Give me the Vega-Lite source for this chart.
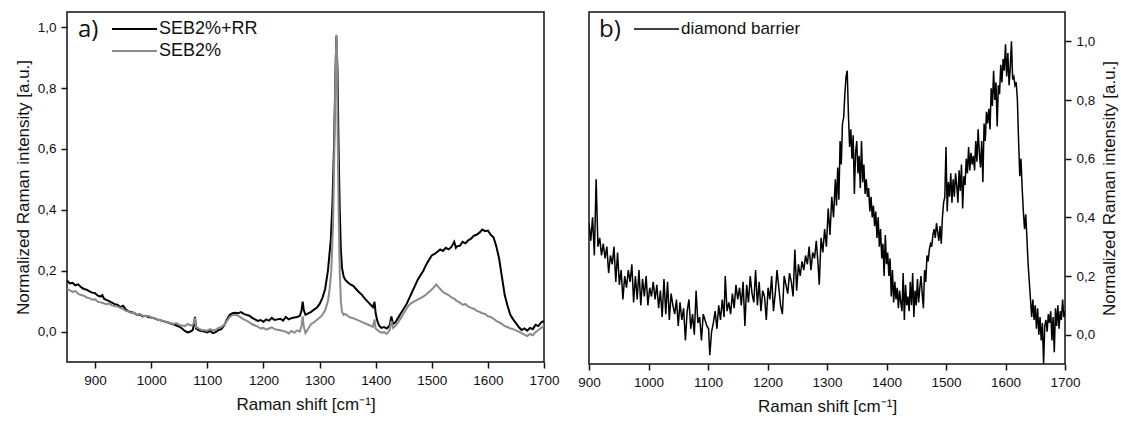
{
  "$schema": "https://vega.github.io/schema/vega-lite/v6.json",
  "background": "white",
  "padding": {"left": 13, "top": 11, "right": 2, "bottom": 2},
  "bounds": "flush",
  "spacing": 45,
  "config": {
    "view": {"stroke": "#111111", "strokeWidth": 1.5},
    "font": "Liberation Sans",
    "axis": {"domain": false, "grid": false, "ticks": true, "tickColor": "#111111", "tickWidth": 1.5, "tickSize": 6, "labelFont": "Liberation Sans", "labelFontSize": 13.5, "labelColor": "#111111", "labelPadding": 5, "titleFont": "Liberation Sans", "titleFontSize": 17, "titleFontWeight": "normal", "titleColor": "#111111"},
    "legend": {"orient": "none", "symbolType": "stroke", "symbolSize": 2025, "symbolStrokeWidth": 2, "clipHeight": 22, "labelFont": "Liberation Sans", "labelFontSize": 18, "labelColor": "#111111", "labelOffset": 1, "titleOrient": "left", "titleAngle": 0, "titleAnchor": "start", "titleBaseline": "top", "titleFont": "Open Sans", "titleFontSize": 24, "titleFontWeight": "normal", "titleColor": "#111111", "titlePadding": 12, "rowPadding": 0, "padding": 0}
  },
  "datasets": {
    "a": [
      {"s":"SEB2%+RR","x":850,"y":0.168},{"s":"SEB2%+RR","x":855,"y":0.158},{"s":"SEB2%+RR","x":860,"y":0.160},{"s":"SEB2%+RR","x":865,"y":0.152},{"s":"SEB2%+RR","x":870,"y":0.155},{"s":"SEB2%+RR","x":875,"y":0.146},{"s":"SEB2%+RR","x":880,"y":0.140},{"s":"SEB2%+RR","x":885,"y":0.138},{"s":"SEB2%+RR","x":890,"y":0.132},{"s":"SEB2%+RR","x":895,"y":0.128},{"s":"SEB2%+RR","x":900,"y":0.126},{"s":"SEB2%+RR","x":905,"y":0.118},{"s":"SEB2%+RR","x":910,"y":0.115},{"s":"SEB2%+RR","x":913,"y":0.120},{"s":"SEB2%+RR","x":916,"y":0.108},{"s":"SEB2%+RR","x":920,"y":0.104},{"s":"SEB2%+RR","x":925,"y":0.100},{"s":"SEB2%+RR","x":930,"y":0.095},{"s":"SEB2%+RR","x":935,"y":0.090},{"s":"SEB2%+RR","x":940,"y":0.088},{"s":"SEB2%+RR","x":945,"y":0.080},{"s":"SEB2%+RR","x":950,"y":0.085},{"s":"SEB2%+RR","x":955,"y":0.072},{"s":"SEB2%+RR","x":960,"y":0.066},{"s":"SEB2%+RR","x":965,"y":0.064},{"s":"SEB2%+RR","x":970,"y":0.060},{"s":"SEB2%+RR","x":975,"y":0.055},{"s":"SEB2%+RR","x":980,"y":0.056},{"s":"SEB2%+RR","x":985,"y":0.050},{"s":"SEB2%+RR","x":990,"y":0.052},{"s":"SEB2%+RR","x":995,"y":0.048},{"s":"SEB2%+RR","x":1000,"y":0.046},{"s":"SEB2%+RR","x":1005,"y":0.044},{"s":"SEB2%+RR","x":1010,"y":0.040},{"s":"SEB2%+RR","x":1015,"y":0.038},{"s":"SEB2%+RR","x":1020,"y":0.035},{"s":"SEB2%+RR","x":1025,"y":0.032},{"s":"SEB2%+RR","x":1030,"y":0.030},{"s":"SEB2%+RR","x":1035,"y":0.026},{"s":"SEB2%+RR","x":1040,"y":0.024},{"s":"SEB2%+RR","x":1045,"y":0.020},{"s":"SEB2%+RR","x":1050,"y":0.016},{"s":"SEB2%+RR","x":1055,"y":0.010},{"s":"SEB2%+RR","x":1060,"y":0.002},{"s":"SEB2%+RR","x":1065,"y":-0.003},{"s":"SEB2%+RR","x":1070,"y":0.000},{"s":"SEB2%+RR","x":1074,"y":0.005},{"s":"SEB2%+RR","x":1077,"y":0.030},{"s":"SEB2%+RR","x":1078,"y":0.048},{"s":"SEB2%+RR","x":1080,"y":0.010},{"s":"SEB2%+RR","x":1085,"y":0.004},{"s":"SEB2%+RR","x":1090,"y":0.002},{"s":"SEB2%+RR","x":1095,"y":0.000},{"s":"SEB2%+RR","x":1100,"y":-0.003},{"s":"SEB2%+RR","x":1105,"y":0.002},{"s":"SEB2%+RR","x":1110,"y":-0.005},{"s":"SEB2%+RR","x":1115,"y":-0.002},{"s":"SEB2%+RR","x":1120,"y":0.005},{"s":"SEB2%+RR","x":1125,"y":0.008},{"s":"SEB2%+RR","x":1130,"y":0.020},{"s":"SEB2%+RR","x":1135,"y":0.040},{"s":"SEB2%+RR","x":1140,"y":0.055},{"s":"SEB2%+RR","x":1145,"y":0.060},{"s":"SEB2%+RR","x":1150,"y":0.062},{"s":"SEB2%+RR","x":1155,"y":0.060},{"s":"SEB2%+RR","x":1160,"y":0.064},{"s":"SEB2%+RR","x":1165,"y":0.058},{"s":"SEB2%+RR","x":1170,"y":0.055},{"s":"SEB2%+RR","x":1175,"y":0.052},{"s":"SEB2%+RR","x":1180,"y":0.045},{"s":"SEB2%+RR","x":1185,"y":0.040},{"s":"SEB2%+RR","x":1190,"y":0.035},{"s":"SEB2%+RR","x":1195,"y":0.038},{"s":"SEB2%+RR","x":1200,"y":0.032},{"s":"SEB2%+RR","x":1205,"y":0.040},{"s":"SEB2%+RR","x":1210,"y":0.036},{"s":"SEB2%+RR","x":1215,"y":0.045},{"s":"SEB2%+RR","x":1220,"y":0.038},{"s":"SEB2%+RR","x":1225,"y":0.040},{"s":"SEB2%+RR","x":1230,"y":0.042},{"s":"SEB2%+RR","x":1235,"y":0.036},{"s":"SEB2%+RR","x":1240,"y":0.048},{"s":"SEB2%+RR","x":1245,"y":0.040},{"s":"SEB2%+RR","x":1250,"y":0.044},{"s":"SEB2%+RR","x":1255,"y":0.046},{"s":"SEB2%+RR","x":1260,"y":0.048},{"s":"SEB2%+RR","x":1265,"y":0.052},{"s":"SEB2%+RR","x":1268,"y":0.070},{"s":"SEB2%+RR","x":1270,"y":0.098},{"s":"SEB2%+RR","x":1272,"y":0.070},{"s":"SEB2%+RR","x":1275,"y":0.055},{"s":"SEB2%+RR","x":1280,"y":0.060},{"s":"SEB2%+RR","x":1285,"y":0.065},{"s":"SEB2%+RR","x":1290,"y":0.072},{"s":"SEB2%+RR","x":1295,"y":0.078},{"s":"SEB2%+RR","x":1300,"y":0.090},{"s":"SEB2%+RR","x":1305,"y":0.110},{"s":"SEB2%+RR","x":1310,"y":0.140},{"s":"SEB2%+RR","x":1315,"y":0.200},{"s":"SEB2%+RR","x":1320,"y":0.300},{"s":"SEB2%+RR","x":1323,"y":0.420},{"s":"SEB2%+RR","x":1326,"y":0.620},{"s":"SEB2%+RR","x":1328,"y":0.820},{"s":"SEB2%+RR","x":1330,"y":0.970},{"s":"SEB2%+RR","x":1332,"y":0.860},{"s":"SEB2%+RR","x":1334,"y":0.600},{"s":"SEB2%+RR","x":1336,"y":0.400},{"s":"SEB2%+RR","x":1338,"y":0.270},{"s":"SEB2%+RR","x":1340,"y":0.210},{"s":"SEB2%+RR","x":1343,"y":0.180},{"s":"SEB2%+RR","x":1346,"y":0.170},{"s":"SEB2%+RR","x":1350,"y":0.162},{"s":"SEB2%+RR","x":1355,"y":0.155},{"s":"SEB2%+RR","x":1360,"y":0.150},{"s":"SEB2%+RR","x":1365,"y":0.140},{"s":"SEB2%+RR","x":1370,"y":0.130},{"s":"SEB2%+RR","x":1375,"y":0.122},{"s":"SEB2%+RR","x":1380,"y":0.110},{"s":"SEB2%+RR","x":1385,"y":0.100},{"s":"SEB2%+RR","x":1390,"y":0.090},{"s":"SEB2%+RR","x":1395,"y":0.080},{"s":"SEB2%+RR","x":1398,"y":0.098},{"s":"SEB2%+RR","x":1400,"y":0.060},{"s":"SEB2%+RR","x":1403,"y":0.035},{"s":"SEB2%+RR","x":1406,"y":0.020},{"s":"SEB2%+RR","x":1410,"y":0.012},{"s":"SEB2%+RR","x":1415,"y":0.015},{"s":"SEB2%+RR","x":1420,"y":0.010},{"s":"SEB2%+RR","x":1425,"y":0.020},{"s":"SEB2%+RR","x":1428,"y":0.050},{"s":"SEB2%+RR","x":1431,"y":0.025},{"s":"SEB2%+RR","x":1435,"y":0.030},{"s":"SEB2%+RR","x":1440,"y":0.045},{"s":"SEB2%+RR","x":1445,"y":0.060},{"s":"SEB2%+RR","x":1450,"y":0.075},{"s":"SEB2%+RR","x":1455,"y":0.090},{"s":"SEB2%+RR","x":1460,"y":0.110},{"s":"SEB2%+RR","x":1465,"y":0.130},{"s":"SEB2%+RR","x":1470,"y":0.150},{"s":"SEB2%+RR","x":1475,"y":0.170},{"s":"SEB2%+RR","x":1480,"y":0.185},{"s":"SEB2%+RR","x":1485,"y":0.200},{"s":"SEB2%+RR","x":1490,"y":0.220},{"s":"SEB2%+RR","x":1495,"y":0.235},{"s":"SEB2%+RR","x":1500,"y":0.250},{"s":"SEB2%+RR","x":1505,"y":0.255},{"s":"SEB2%+RR","x":1510,"y":0.262},{"s":"SEB2%+RR","x":1515,"y":0.270},{"s":"SEB2%+RR","x":1520,"y":0.265},{"s":"SEB2%+RR","x":1525,"y":0.275},{"s":"SEB2%+RR","x":1530,"y":0.270},{"s":"SEB2%+RR","x":1535,"y":0.278},{"s":"SEB2%+RR","x":1540,"y":0.295},{"s":"SEB2%+RR","x":1543,"y":0.275},{"s":"SEB2%+RR","x":1545,"y":0.280},{"s":"SEB2%+RR","x":1550,"y":0.282},{"s":"SEB2%+RR","x":1555,"y":0.295},{"s":"SEB2%+RR","x":1560,"y":0.290},{"s":"SEB2%+RR","x":1565,"y":0.300},{"s":"SEB2%+RR","x":1570,"y":0.305},{"s":"SEB2%+RR","x":1575,"y":0.315},{"s":"SEB2%+RR","x":1580,"y":0.318},{"s":"SEB2%+RR","x":1585,"y":0.325},{"s":"SEB2%+RR","x":1590,"y":0.335},{"s":"SEB2%+RR","x":1595,"y":0.330},{"s":"SEB2%+RR","x":1600,"y":0.332},{"s":"SEB2%+RR","x":1605,"y":0.318},{"s":"SEB2%+RR","x":1610,"y":0.310},{"s":"SEB2%+RR","x":1615,"y":0.280},{"s":"SEB2%+RR","x":1620,"y":0.240},{"s":"SEB2%+RR","x":1625,"y":0.180},{"s":"SEB2%+RR","x":1630,"y":0.120},{"s":"SEB2%+RR","x":1635,"y":0.085},{"s":"SEB2%+RR","x":1640,"y":0.055},{"s":"SEB2%+RR","x":1645,"y":0.040},{"s":"SEB2%+RR","x":1650,"y":0.028},{"s":"SEB2%+RR","x":1655,"y":0.015},{"s":"SEB2%+RR","x":1660,"y":0.005},{"s":"SEB2%+RR","x":1665,"y":0.010},{"s":"SEB2%+RR","x":1670,"y":0.003},{"s":"SEB2%+RR","x":1675,"y":0.012},{"s":"SEB2%+RR","x":1680,"y":0.008},{"s":"SEB2%+RR","x":1685,"y":0.022},{"s":"SEB2%+RR","x":1690,"y":0.018},{"s":"SEB2%+RR","x":1695,"y":0.030},{"s":"SEB2%+RR","x":1700,"y":0.035},
      {"s":"SEB2%","x":850,"y":0.140},{"s":"SEB2%","x":855,"y":0.135},{"s":"SEB2%","x":860,"y":0.130},{"s":"SEB2%","x":865,"y":0.133},{"s":"SEB2%","x":870,"y":0.124},{"s":"SEB2%","x":875,"y":0.120},{"s":"SEB2%","x":880,"y":0.118},{"s":"SEB2%","x":885,"y":0.112},{"s":"SEB2%","x":890,"y":0.110},{"s":"SEB2%","x":895,"y":0.105},{"s":"SEB2%","x":900,"y":0.106},{"s":"SEB2%","x":905,"y":0.098},{"s":"SEB2%","x":910,"y":0.096},{"s":"SEB2%","x":915,"y":0.093},{"s":"SEB2%","x":920,"y":0.090},{"s":"SEB2%","x":925,"y":0.092},{"s":"SEB2%","x":930,"y":0.086},{"s":"SEB2%","x":935,"y":0.084},{"s":"SEB2%","x":940,"y":0.082},{"s":"SEB2%","x":945,"y":0.078},{"s":"SEB2%","x":950,"y":0.074},{"s":"SEB2%","x":955,"y":0.068},{"s":"SEB2%","x":960,"y":0.066},{"s":"SEB2%","x":965,"y":0.060},{"s":"SEB2%","x":970,"y":0.062},{"s":"SEB2%","x":975,"y":0.055},{"s":"SEB2%","x":980,"y":0.058},{"s":"SEB2%","x":985,"y":0.052},{"s":"SEB2%","x":990,"y":0.050},{"s":"SEB2%","x":995,"y":0.052},{"s":"SEB2%","x":1000,"y":0.046},{"s":"SEB2%","x":1005,"y":0.044},{"s":"SEB2%","x":1010,"y":0.040},{"s":"SEB2%","x":1015,"y":0.038},{"s":"SEB2%","x":1020,"y":0.036},{"s":"SEB2%","x":1025,"y":0.033},{"s":"SEB2%","x":1030,"y":0.030},{"s":"SEB2%","x":1035,"y":0.028},{"s":"SEB2%","x":1040,"y":0.025},{"s":"SEB2%","x":1045,"y":0.028},{"s":"SEB2%","x":1050,"y":0.022},{"s":"SEB2%","x":1055,"y":0.020},{"s":"SEB2%","x":1060,"y":0.018},{"s":"SEB2%","x":1065,"y":0.025},{"s":"SEB2%","x":1070,"y":0.020},{"s":"SEB2%","x":1074,"y":0.022},{"s":"SEB2%","x":1077,"y":0.032},{"s":"SEB2%","x":1078,"y":0.045},{"s":"SEB2%","x":1080,"y":0.015},{"s":"SEB2%","x":1085,"y":0.010},{"s":"SEB2%","x":1090,"y":0.005},{"s":"SEB2%","x":1095,"y":0.004},{"s":"SEB2%","x":1100,"y":0.003},{"s":"SEB2%","x":1105,"y":0.008},{"s":"SEB2%","x":1110,"y":0.004},{"s":"SEB2%","x":1115,"y":0.006},{"s":"SEB2%","x":1120,"y":0.012},{"s":"SEB2%","x":1125,"y":0.015},{"s":"SEB2%","x":1130,"y":0.022},{"s":"SEB2%","x":1135,"y":0.035},{"s":"SEB2%","x":1140,"y":0.048},{"s":"SEB2%","x":1145,"y":0.054},{"s":"SEB2%","x":1150,"y":0.055},{"s":"SEB2%","x":1155,"y":0.052},{"s":"SEB2%","x":1160,"y":0.046},{"s":"SEB2%","x":1165,"y":0.040},{"s":"SEB2%","x":1170,"y":0.036},{"s":"SEB2%","x":1175,"y":0.030},{"s":"SEB2%","x":1180,"y":0.024},{"s":"SEB2%","x":1185,"y":0.020},{"s":"SEB2%","x":1190,"y":0.016},{"s":"SEB2%","x":1195,"y":0.010},{"s":"SEB2%","x":1200,"y":0.012},{"s":"SEB2%","x":1205,"y":0.006},{"s":"SEB2%","x":1210,"y":0.010},{"s":"SEB2%","x":1215,"y":0.014},{"s":"SEB2%","x":1220,"y":0.008},{"s":"SEB2%","x":1225,"y":0.006},{"s":"SEB2%","x":1230,"y":0.004},{"s":"SEB2%","x":1235,"y":0.002},{"s":"SEB2%","x":1240,"y":0.000},{"s":"SEB2%","x":1245,"y":-0.006},{"s":"SEB2%","x":1250,"y":0.002},{"s":"SEB2%","x":1255,"y":-0.004},{"s":"SEB2%","x":1260,"y":0.004},{"s":"SEB2%","x":1265,"y":0.000},{"s":"SEB2%","x":1268,"y":0.020},{"s":"SEB2%","x":1270,"y":0.050},{"s":"SEB2%","x":1272,"y":0.015},{"s":"SEB2%","x":1275,"y":-0.005},{"s":"SEB2%","x":1280,"y":0.010},{"s":"SEB2%","x":1285,"y":0.025},{"s":"SEB2%","x":1290,"y":0.030},{"s":"SEB2%","x":1295,"y":0.038},{"s":"SEB2%","x":1300,"y":0.045},{"s":"SEB2%","x":1305,"y":0.055},{"s":"SEB2%","x":1310,"y":0.070},{"s":"SEB2%","x":1315,"y":0.100},{"s":"SEB2%","x":1318,"y":0.140},{"s":"SEB2%","x":1321,"y":0.200},{"s":"SEB2%","x":1324,"y":0.350},{"s":"SEB2%","x":1326,"y":0.550},{"s":"SEB2%","x":1328,"y":0.800},{"s":"SEB2%","x":1330,"y":0.975},{"s":"SEB2%","x":1331,"y":0.930},{"s":"SEB2%","x":1332,"y":0.700},{"s":"SEB2%","x":1334,"y":0.400},{"s":"SEB2%","x":1336,"y":0.200},{"s":"SEB2%","x":1338,"y":0.100},{"s":"SEB2%","x":1340,"y":0.065},{"s":"SEB2%","x":1343,"y":0.055},{"s":"SEB2%","x":1346,"y":0.058},{"s":"SEB2%","x":1350,"y":0.052},{"s":"SEB2%","x":1355,"y":0.046},{"s":"SEB2%","x":1360,"y":0.044},{"s":"SEB2%","x":1365,"y":0.040},{"s":"SEB2%","x":1370,"y":0.036},{"s":"SEB2%","x":1375,"y":0.032},{"s":"SEB2%","x":1380,"y":0.028},{"s":"SEB2%","x":1385,"y":0.024},{"s":"SEB2%","x":1390,"y":0.020},{"s":"SEB2%","x":1395,"y":0.015},{"s":"SEB2%","x":1398,"y":0.040},{"s":"SEB2%","x":1400,"y":0.010},{"s":"SEB2%","x":1405,"y":0.002},{"s":"SEB2%","x":1410,"y":-0.004},{"s":"SEB2%","x":1415,"y":-0.002},{"s":"SEB2%","x":1420,"y":-0.008},{"s":"SEB2%","x":1425,"y":0.005},{"s":"SEB2%","x":1428,"y":0.035},{"s":"SEB2%","x":1431,"y":0.012},{"s":"SEB2%","x":1435,"y":0.018},{"s":"SEB2%","x":1440,"y":0.030},{"s":"SEB2%","x":1445,"y":0.045},{"s":"SEB2%","x":1450,"y":0.060},{"s":"SEB2%","x":1455,"y":0.075},{"s":"SEB2%","x":1460,"y":0.088},{"s":"SEB2%","x":1465,"y":0.095},{"s":"SEB2%","x":1470,"y":0.100},{"s":"SEB2%","x":1475,"y":0.105},{"s":"SEB2%","x":1480,"y":0.110},{"s":"SEB2%","x":1485,"y":0.115},{"s":"SEB2%","x":1490,"y":0.122},{"s":"SEB2%","x":1495,"y":0.130},{"s":"SEB2%","x":1500,"y":0.138},{"s":"SEB2%","x":1505,"y":0.148},{"s":"SEB2%","x":1508,"y":0.155},{"s":"SEB2%","x":1510,"y":0.150},{"s":"SEB2%","x":1515,"y":0.140},{"s":"SEB2%","x":1520,"y":0.130},{"s":"SEB2%","x":1525,"y":0.125},{"s":"SEB2%","x":1530,"y":0.120},{"s":"SEB2%","x":1535,"y":0.112},{"s":"SEB2%","x":1540,"y":0.108},{"s":"SEB2%","x":1545,"y":0.100},{"s":"SEB2%","x":1550,"y":0.095},{"s":"SEB2%","x":1555,"y":0.088},{"s":"SEB2%","x":1560,"y":0.090},{"s":"SEB2%","x":1565,"y":0.082},{"s":"SEB2%","x":1570,"y":0.078},{"s":"SEB2%","x":1575,"y":0.075},{"s":"SEB2%","x":1580,"y":0.068},{"s":"SEB2%","x":1585,"y":0.065},{"s":"SEB2%","x":1590,"y":0.060},{"s":"SEB2%","x":1595,"y":0.058},{"s":"SEB2%","x":1600,"y":0.050},{"s":"SEB2%","x":1605,"y":0.048},{"s":"SEB2%","x":1610,"y":0.042},{"s":"SEB2%","x":1615,"y":0.035},{"s":"SEB2%","x":1620,"y":0.030},{"s":"SEB2%","x":1625,"y":0.025},{"s":"SEB2%","x":1630,"y":0.018},{"s":"SEB2%","x":1635,"y":0.015},{"s":"SEB2%","x":1640,"y":0.010},{"s":"SEB2%","x":1645,"y":0.008},{"s":"SEB2%","x":1650,"y":0.004},{"s":"SEB2%","x":1655,"y":0.000},{"s":"SEB2%","x":1660,"y":-0.005},{"s":"SEB2%","x":1665,"y":-0.010},{"s":"SEB2%","x":1670,"y":-0.015},{"s":"SEB2%","x":1675,"y":-0.008},{"s":"SEB2%","x":1680,"y":-0.012},{"s":"SEB2%","x":1685,"y":-0.002},{"s":"SEB2%","x":1690,"y":0.005},{"s":"SEB2%","x":1695,"y":0.012},{"s":"SEB2%","x":1700,"y":0.020}
    ],
    "b": [
      {"x":900,"y":0.38},{"x":903,"y":0.32},{"x":906,"y":0.40},{"x":909,"y":0.27},{"x":912,"y":0.53},{"x":915,"y":0.30},{"x":918,"y":0.33},{"x":921,"y":0.27},{"x":924,"y":0.31},{"x":927,"y":0.26},{"x":930,"y":0.30},{"x":933,"y":0.21},{"x":936,"y":0.27},{"x":939,"y":0.24},{"x":942,"y":0.30},{"x":945,"y":0.18},{"x":948,"y":0.28},{"x":951,"y":0.17},{"x":954,"y":0.22},{"x":957,"y":0.12},{"x":960,"y":0.20},{"x":963,"y":0.16},{"x":966,"y":0.22},{"x":969,"y":0.18},{"x":972,"y":0.24},{"x":975,"y":0.11},{"x":978,"y":0.20},{"x":981,"y":0.12},{"x":984,"y":0.22},{"x":987,"y":0.10},{"x":990,"y":0.19},{"x":993,"y":0.13},{"x":996,"y":0.20},{"x":999,"y":0.10},{"x":1002,"y":0.16},{"x":1005,"y":0.13},{"x":1008,"y":0.18},{"x":1011,"y":0.12},{"x":1014,"y":0.17},{"x":1017,"y":0.09},{"x":1020,"y":0.15},{"x":1023,"y":0.06},{"x":1026,"y":0.19},{"x":1029,"y":0.07},{"x":1032,"y":0.18},{"x":1035,"y":0.05},{"x":1038,"y":0.14},{"x":1041,"y":0.10},{"x":1044,"y":0.07},{"x":1047,"y":0.12},{"x":1050,"y":0.03},{"x":1053,"y":0.11},{"x":1056,"y":0.05},{"x":1059,"y":0.09},{"x":1062,"y":-0.02},{"x":1065,"y":0.08},{"x":1068,"y":0.12},{"x":1071,"y":0.02},{"x":1074,"y":0.07},{"x":1077,"y":0.00},{"x":1080,"y":0.15},{"x":1083,"y":0.04},{"x":1086,"y":0.06},{"x":1089,"y":-0.02},{"x":1092,"y":0.07},{"x":1095,"y":0.05},{"x":1098,"y":0.03},{"x":1101,"y":0.02},{"x":1103,"y":-0.07},{"x":1106,"y":0.01},{"x":1109,"y":0.04},{"x":1112,"y":0.08},{"x":1115,"y":0.02},{"x":1118,"y":0.10},{"x":1121,"y":0.05},{"x":1124,"y":0.12},{"x":1127,"y":0.06},{"x":1129,"y":0.20},{"x":1132,"y":0.08},{"x":1135,"y":0.11},{"x":1138,"y":0.07},{"x":1141,"y":0.14},{"x":1144,"y":0.09},{"x":1147,"y":0.17},{"x":1150,"y":0.12},{"x":1153,"y":0.16},{"x":1156,"y":0.10},{"x":1159,"y":0.18},{"x":1162,"y":0.03},{"x":1165,"y":0.17},{"x":1168,"y":0.11},{"x":1171,"y":0.20},{"x":1174,"y":0.14},{"x":1177,"y":0.11},{"x":1180,"y":0.22},{"x":1183,"y":0.10},{"x":1186,"y":0.18},{"x":1189,"y":0.08},{"x":1192,"y":0.15},{"x":1195,"y":0.13},{"x":1198,"y":0.05},{"x":1201,"y":0.16},{"x":1204,"y":0.12},{"x":1207,"y":0.20},{"x":1210,"y":0.08},{"x":1213,"y":0.14},{"x":1216,"y":0.22},{"x":1219,"y":0.16},{"x":1222,"y":0.10},{"x":1225,"y":0.07},{"x":1228,"y":0.20},{"x":1231,"y":0.17},{"x":1234,"y":0.14},{"x":1237,"y":0.21},{"x":1240,"y":0.18},{"x":1243,"y":0.13},{"x":1246,"y":0.29},{"x":1249,"y":0.15},{"x":1252,"y":0.24},{"x":1255,"y":0.20},{"x":1258,"y":0.25},{"x":1261,"y":0.22},{"x":1264,"y":0.27},{"x":1267,"y":0.24},{"x":1270,"y":0.30},{"x":1273,"y":0.22},{"x":1276,"y":0.28},{"x":1279,"y":0.26},{"x":1282,"y":0.32},{"x":1285,"y":0.24},{"x":1287,"y":0.17},{"x":1290,"y":0.33},{"x":1293,"y":0.28},{"x":1296,"y":0.36},{"x":1299,"y":0.30},{"x":1302,"y":0.43},{"x":1305,"y":0.34},{"x":1308,"y":0.47},{"x":1311,"y":0.40},{"x":1314,"y":0.53},{"x":1316,"y":0.44},{"x":1318,"y":0.57},{"x":1320,"y":0.46},{"x":1322,"y":0.66},{"x":1324,"y":0.58},{"x":1326,"y":0.72},{"x":1328,"y":0.74},{"x":1330,"y":0.82},{"x":1332,"y":0.88},{"x":1334,"y":0.90},{"x":1336,"y":0.75},{"x":1338,"y":0.64},{"x":1340,"y":0.70},{"x":1342,"y":0.60},{"x":1344,"y":0.68},{"x":1346,"y":0.48},{"x":1348,"y":0.62},{"x":1350,"y":0.66},{"x":1352,"y":0.55},{"x":1354,"y":0.61},{"x":1356,"y":0.50},{"x":1358,"y":0.66},{"x":1360,"y":0.52},{"x":1362,"y":0.58},{"x":1364,"y":0.48},{"x":1366,"y":0.53},{"x":1368,"y":0.47},{"x":1370,"y":0.50},{"x":1372,"y":0.42},{"x":1374,"y":0.47},{"x":1376,"y":0.40},{"x":1378,"y":0.44},{"x":1380,"y":0.37},{"x":1382,"y":0.42},{"x":1384,"y":0.33},{"x":1386,"y":0.40},{"x":1388,"y":0.30},{"x":1390,"y":0.36},{"x":1392,"y":0.26},{"x":1394,"y":0.31},{"x":1396,"y":0.20},{"x":1398,"y":0.34},{"x":1400,"y":0.24},{"x":1402,"y":0.28},{"x":1404,"y":0.20},{"x":1406,"y":0.26},{"x":1408,"y":0.13},{"x":1410,"y":0.22},{"x":1412,"y":0.11},{"x":1414,"y":0.18},{"x":1416,"y":0.12},{"x":1418,"y":0.16},{"x":1420,"y":0.09},{"x":1422,"y":0.15},{"x":1424,"y":0.11},{"x":1426,"y":0.08},{"x":1428,"y":0.21},{"x":1430,"y":0.05},{"x":1432,"y":0.17},{"x":1434,"y":0.10},{"x":1436,"y":0.13},{"x":1438,"y":0.08},{"x":1440,"y":0.18},{"x":1442,"y":0.10},{"x":1444,"y":0.21},{"x":1446,"y":0.06},{"x":1448,"y":0.15},{"x":1450,"y":0.10},{"x":1452,"y":0.19},{"x":1454,"y":0.11},{"x":1456,"y":0.16},{"x":1458,"y":0.20},{"x":1460,"y":0.14},{"x":1462,"y":0.09},{"x":1464,"y":0.22},{"x":1466,"y":0.18},{"x":1468,"y":0.27},{"x":1470,"y":0.25},{"x":1472,"y":0.29},{"x":1474,"y":0.31},{"x":1476,"y":0.30},{"x":1478,"y":0.34},{"x":1480,"y":0.36},{"x":1482,"y":0.33},{"x":1484,"y":0.38},{"x":1486,"y":0.35},{"x":1488,"y":0.32},{"x":1490,"y":0.37},{"x":1492,"y":0.31},{"x":1494,"y":0.40},{"x":1496,"y":0.45},{"x":1498,"y":0.47},{"x":1500,"y":0.64},{"x":1502,"y":0.42},{"x":1504,"y":0.52},{"x":1506,"y":0.47},{"x":1508,"y":0.55},{"x":1510,"y":0.45},{"x":1512,"y":0.53},{"x":1514,"y":0.47},{"x":1516,"y":0.55},{"x":1518,"y":0.51},{"x":1520,"y":0.45},{"x":1522,"y":0.56},{"x":1524,"y":0.49},{"x":1526,"y":0.58},{"x":1528,"y":0.43},{"x":1530,"y":0.54},{"x":1532,"y":0.51},{"x":1534,"y":0.60},{"x":1536,"y":0.55},{"x":1538,"y":0.64},{"x":1540,"y":0.56},{"x":1542,"y":0.62},{"x":1544,"y":0.58},{"x":1546,"y":0.61},{"x":1548,"y":0.56},{"x":1550,"y":0.66},{"x":1552,"y":0.59},{"x":1554,"y":0.70},{"x":1556,"y":0.62},{"x":1558,"y":0.57},{"x":1560,"y":0.66},{"x":1562,"y":0.52},{"x":1564,"y":0.72},{"x":1566,"y":0.66},{"x":1568,"y":0.76},{"x":1570,"y":0.72},{"x":1572,"y":0.77},{"x":1574,"y":0.70},{"x":1576,"y":0.84},{"x":1578,"y":0.78},{"x":1580,"y":0.90},{"x":1582,"y":0.80},{"x":1584,"y":0.86},{"x":1586,"y":0.71},{"x":1588,"y":0.85},{"x":1590,"y":0.82},{"x":1592,"y":0.92},{"x":1594,"y":0.86},{"x":1596,"y":0.94},{"x":1598,"y":0.90},{"x":1600,"y":0.99},{"x":1602,"y":0.88},{"x":1604,"y":0.96},{"x":1606,"y":0.85},{"x":1608,"y":0.91},{"x":1610,"y":1.00},{"x":1612,"y":0.87},{"x":1614,"y":0.88},{"x":1616,"y":0.85},{"x":1618,"y":0.86},{"x":1620,"y":0.80},{"x":1622,"y":0.66},{"x":1624,"y":0.54},{"x":1626,"y":0.60},{"x":1628,"y":0.50},{"x":1630,"y":0.42},{"x":1632,"y":0.36},{"x":1634,"y":0.41},{"x":1636,"y":0.33},{"x":1638,"y":0.24},{"x":1640,"y":0.18},{"x":1642,"y":0.12},{"x":1644,"y":0.06},{"x":1646,"y":0.12},{"x":1648,"y":0.05},{"x":1650,"y":0.10},{"x":1652,"y":0.02},{"x":1654,"y":0.09},{"x":1656,"y":0.00},{"x":1658,"y":0.06},{"x":1660,"y":-0.02},{"x":1662,"y":0.04},{"x":1664,"y":-0.10},{"x":1666,"y":0.03},{"x":1668,"y":0.05},{"x":1670,"y":0.01},{"x":1672,"y":0.07},{"x":1674,"y":0.04},{"x":1676,"y":0.08},{"x":1678,"y":-0.02},{"x":1680,"y":0.06},{"x":1682,"y":-0.06},{"x":1684,"y":0.09},{"x":1686,"y":0.03},{"x":1688,"y":0.10},{"x":1690,"y":0.02},{"x":1692,"y":0.08},{"x":1694,"y":0.05},{"x":1696,"y":0.12},{"x":1698,"y":0.06},{"x":1700,"y":0.08}
    ]
  },
  "hconcat": [
    {
      "width": 477,
      "height": 350,
      "data": {"name": "a"},
      "mark": {"type": "line", "strokeWidth": 2, "clip": true},
      "encoding": {
        "x": {"field": "x", "type": "quantitative", "scale": {"domain": [850, 1700], "nice": false, "zero": false}, "axis": {"values": [900, 1000, 1100, 1200, 1300, 1400, 1500, 1600, 1700], "format": "d", "labelFlush": false, "ticks": true, "tickSize": 6, "title": "Raman shift [cm⁻¹]", "titlePadding": 10}},
        "y": {"field": "y", "type": "quantitative", "scale": {"domain": [-0.1, 1.05], "nice": false, "zero": false}, "axis": {"values": [0, 0.2, 0.4, 0.6, 0.8, 1.0], "labelExpr": "replace(format(datum.value, '.1f'), '.', ',')", "labelFlush": false, "ticks": true, "tickSize": 6, "title": "Normalized Raman intensity [a.u.]", "titlePadding": 5}},
        "color": {"field": "s", "type": "nominal", "scale": {"domain": ["SEB2%+RR", "SEB2%"], "range": ["#000000", "#8a8a8a"]}, "legend": {"title": "a)", "legendX": 11, "legendY": 6}}
      }
    },
    {
      "width": 476,
      "height": 352,
      "data": {"name": "b"},
      "mark": {"type": "line", "strokeWidth": 1.5, "clip": true, "color": "#000000"},
      "encoding": {
        "x": {"field": "x", "type": "quantitative", "scale": {"domain": [900, 1700], "nice": false, "zero": false}, "axis": {"values": [900, 1000, 1100, 1200, 1300, 1400, 1500, 1600, 1700], "format": "d", "labelFlush": false, "ticks": true, "tickSize": 6, "title": "Raman shift [cm⁻¹]", "titlePadding": 10}},
        "y": {"field": "y", "type": "quantitative", "scale": {"domain": [-0.1, 1.1], "nice": false, "zero": false}, "axis": {"orient": "right", "values": [0, 0.2, 0.4, 0.6, 0.8, 1.0], "labelExpr": "replace(format(datum.value, '.1f'), '.', ',')", "labelFlush": false, "ticks": true, "tickSize": 6, "title": "Normalized Raman intensity [a.u.]", "titleAngle": 270, "titleBaseline": "top", "titlePadding": 7}},
        "color": {"datum": "diamond barrier", "type": "nominal", "scale": {"range": ["#000000"]}, "legend": {"title": "b)", "legendX": 10, "legendY": 6, "symbolStrokeWidth": 1.5, "labelFontSize": 17}}
      }
    }
  ],
  "resolve": {"scale": {"color": "independent"}, "legend": {"color": "independent"}}
}
